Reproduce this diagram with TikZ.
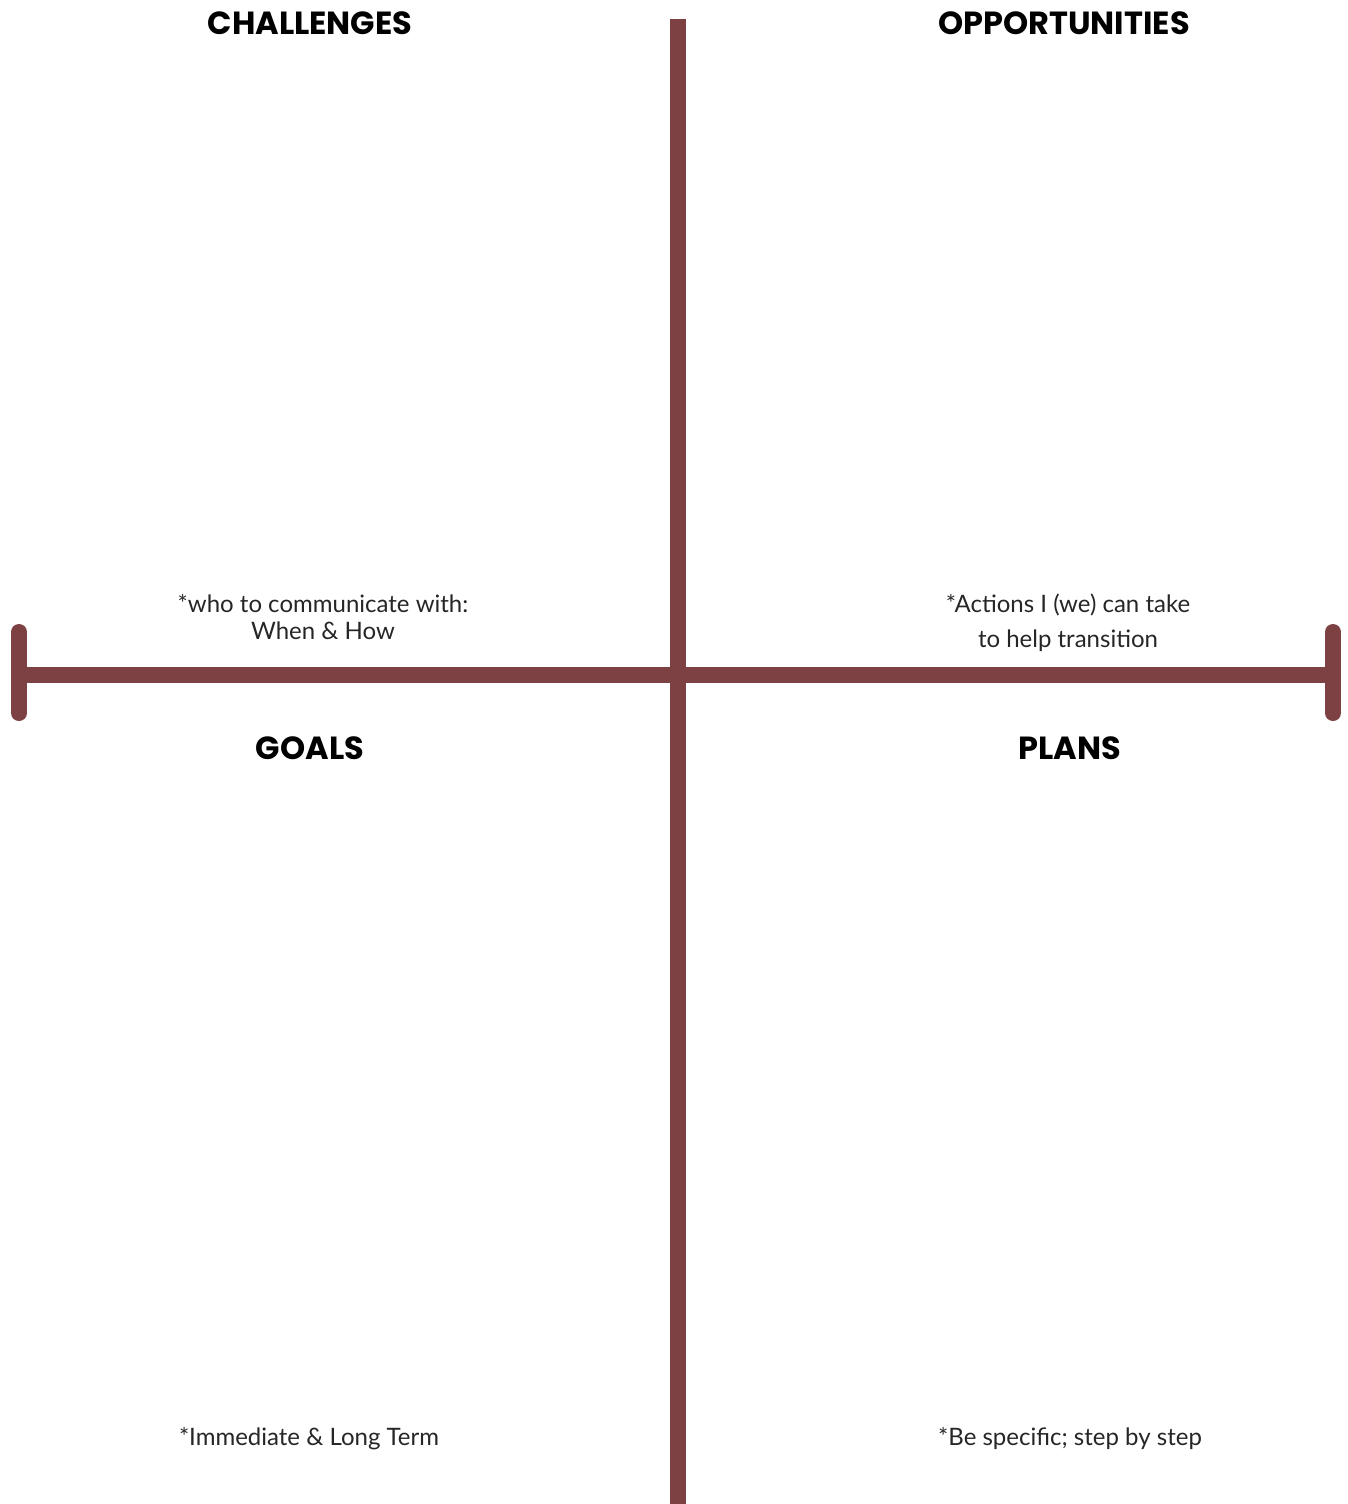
\documentclass[tikz,border=0pt]{standalone}
\usepackage{fontspec}
\setmainfont{Lato}
\newfontfamily\headfont{Poppins}[UprightFont=* Bold]
\definecolor{barcolor}{RGB}{125,64,67}
\tikzset{
	bar/.style={draw=barcolor, line width=16pt},
	heading/.style={font=\headfont\fontsize{32}{38}\selectfont, text=black},
	hint/.style={font=\fontsize{24}{27}\selectfont, text=black!85, align=center}
}

\begin{document}
\begin{tikzpicture}[x=1pt, y=-1pt]

				\useasboundingbox (0,0) rectangle (1347,1504);

				\coordinate (boven) at (678,19);
				\coordinate (onder) at (678,1504);
				\coordinate (links) at (27,675);
				\coordinate (rechts) at (1325,675);
				\coordinate (linkskapboven) at (19,632);
				\coordinate (linkskaponder) at (19,713);
				\coordinate (rechtskapboven) at (1333,632);
				\coordinate (rechtskaponder) at (1333,713);

				\draw[bar] (boven) -- (onder);
				\draw[bar] (links) -- (rechts);
				\draw[bar, line cap=round] (linkskapboven) -- (linkskaponder);
				\draw[bar, line cap=round] (rechtskapboven) -- (rechtskaponder);

				\node[heading] (challenges) at (310,23) {CHALLENGES};
				\node[heading] (opportunities) at (1064,23) {OPPORTUNITIES};
				\node[heading] (goals) at (310,748) {GOALS};
				\node[heading] (plans) at (1070,748) {PLANS};

				\node[hint] (communicate) at (323,617) {*who to communicate with:\\When \& How};
				\node[hint, font=\fontsize{24}{35}\selectfont] (actions) at (1068,623) {*Actions I (we) can take\\to help transition};
				\node[hint] (immediate) at (309,1439) {*Immediate \& Long Term};
				\node[hint] (specific) at (1070,1439) {*Be specific; step by step};

			\end{tikzpicture}
\end{document}
